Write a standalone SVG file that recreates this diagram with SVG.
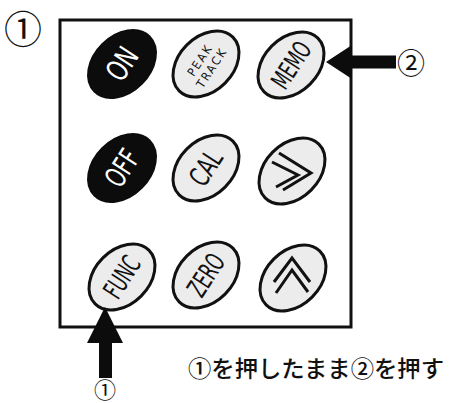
<svg xmlns="http://www.w3.org/2000/svg" width="452" height="403" viewBox="0 0 452 403">
<defs>
<style>
.panel{fill:#fff;stroke:#111;stroke-width:3}
.dark{fill:#0c0c0c;stroke:#0c0c0c;stroke-width:2}
.light{fill:#ececec;stroke:#111;stroke-width:3}
.wt{fill:#fff;font-family:"DejaVu Sans Condensed","Liberation Sans",sans-serif;text-anchor:middle;dominant-baseline:central}
.bt{fill:#111;font-family:"DejaVu Sans Condensed","Liberation Sans",sans-serif;text-anchor:middle;dominant-baseline:central}
.chev{fill:none;stroke:#111;stroke-width:3;stroke-linejoin:miter}
.lbl{fill:#111;font-family:"Noto Sans CJK JP",sans-serif;text-anchor:middle;dominant-baseline:central}
.cap{fill:#111;font-family:"Noto Sans CJK JP",sans-serif;font-size:23px;font-weight:500}
.arr{fill:#0c0c0c}
</style>
</defs>
<rect width="452" height="403" fill="#fff"/>
<text class="lbl" x="23" y="26" font-size="38">①</text>
<rect class="panel" x="60" y="20" width="291" height="307"/>
<g id="btn-on"><ellipse class="dark" cx="122" cy="64" rx="39" ry="28" transform="rotate(-45 122 64)"/><text class="wt" font-size="30" transform="translate(122 64) rotate(-57) scale(0.8 1)">ON</text></g>
<g id="btn-peak"><ellipse class="light" cx="206" cy="64" rx="38" ry="27" transform="rotate(-45 206 64)"/><g transform="translate(206 64) rotate(-57)"><text class="bt" x="0" y="-7" font-size="12" letter-spacing="2">PEAK</text><text class="bt" x="0" y="7" font-size="12" letter-spacing="2">TRACK</text></g></g>
<g id="btn-memo"><ellipse class="light" cx="291" cy="65" rx="38" ry="27" transform="rotate(-45 291 65)"/><text class="bt" font-size="26" transform="translate(291 65) rotate(-57) scale(0.68 1)">MEMO</text></g>
<g id="btn-off"><ellipse class="dark" cx="122" cy="168" rx="39" ry="28" transform="rotate(-45 122 168)"/><text class="wt" font-size="29" transform="translate(122 168) rotate(-57) scale(0.75 1)">OFF</text></g>
<g id="btn-cal"><ellipse class="light" cx="206" cy="168" rx="38" ry="27" transform="rotate(-45 206 168)"/><text class="bt" font-size="28" transform="translate(206 168) rotate(-57) scale(0.75 1)">CAL</text></g>
<g id="btn-right"><ellipse class="light" cx="292" cy="171" rx="38" ry="27" transform="rotate(-45 292 171)"/><polyline class="chev" points="279,153 311,173 283,190"/><polyline class="chev" points="272,162 298,175 276,187"/></g>
<g id="btn-func"><ellipse class="light" cx="122" cy="277" rx="38" ry="27" transform="rotate(-45 122 277)"/><text class="bt" font-size="27" transform="translate(122 277) rotate(-57) scale(0.66 1)">FUNC</text></g>
<g id="btn-zero"><ellipse class="light" cx="206" cy="275" rx="38" ry="27" transform="rotate(-45 206 275)"/><text class="bt" font-size="27" transform="translate(206 275) rotate(-57) scale(0.66 1)">ZERO</text></g>
<g id="btn-up"><ellipse class="light" cx="293" cy="278" rx="38" ry="27" transform="rotate(-45 293 278)"/><polyline class="chev" points="274,282 292,258 310,282"/><polyline class="chev" points="276,293 292,270 308,292"/></g>
<g id="connectors">
<polygon class="arr" points="326,62 352,45 352,55.5 396,55.5 396,68.5 352,68.5 352,79"/>
<polygon class="arr" points="105,307 123,343 112,343 112,378 99,378 99,343 87,343"/>
</g>
<text class="lbl" x="411" y="62" font-size="28">②</text>
<text class="lbl" x="105" y="388" font-size="22">①</text>
<text class="cap" x="188" y="377" textLength="256" lengthAdjust="spacingAndGlyphs">①を押したまま②を押す</text>
</svg>
